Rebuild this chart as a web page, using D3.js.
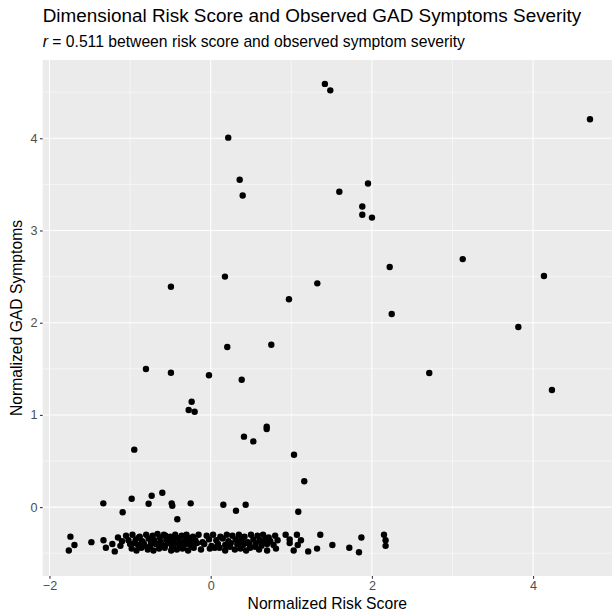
<!DOCTYPE html>
<html><head><meta charset="utf-8">
<script src="https://cdn.jsdelivr.net/npm/d3@7"></script>
<style>body{margin:0;background:#fff}svg{display:block}text{font-family:"Liberation Sans",Arial,sans-serif}</style>
</head><body>
<svg id="c" width="612" height="615"></svg>
<script>
const titleText = "Dimensional Risk Score and Observed GAD Symptoms Severity";
const xLabel = "Normalized Risk Score";
const yLabel = "Normalized GAD Symptoms";
const xTicks = [-2, 0, 2, 4];
const yTicks = [0, 1, 2, 3, 4];

// Scattered participants (above the floor)
const riskScoreHigh = [1.417,1.484,0.218,0.36,0.397,1.596,4.706,1.952,1.881,1.881,2.001,3.127,-0.493,0.177,1.323,0.971,0.752,0.206,-0.803,-0.493,-0.021,0.385,-0.236,-0.273,-0.199,0.695,0.695,0.413,0.529,-0.948,1.034,1.161,2.221,4.135,2.246,3.817,2.712,4.234,-1.332,-0.98,-0.732,-0.6,-0.77,-1.092,-0.484,-0.476,-0.248,-0.414,0.157,0.314,0.434,1.087];
const gadHigh = [4.59,4.52,4.007,3.55,3.38,3.42,4.206,3.51,3.26,3.17,3.14,2.69,2.39,2.50,2.427,2.254,1.761,1.736,1.498,1.458,1.43,1.382,1.143,1.053,1.035,0.872,0.847,0.764,0.713,0.623,0.568,0.28,2.604,2.506,2.094,1.953,1.454,1.27,0.041,0.091,0.124,0.156,0.037,-0.056,0.041,0.015,0.041,-0.132,0.026,-0.039,0.026,-0.05];

// Participants near the symptom floor
const riskScoreFloor = [
 -1.76,-1.74,-1.69,-1.48,-1.33,-1.30,-1.19,-1.22,-1.15,-1.12,-1.10,
 -1.05,-0.97,-0.88,-0.80,-0.72,-0.66,-0.58,-0.50,-0.44,-0.36,-0.30,-0.22,-0.15,-0.05,0.03,0.12,0.20,0.27,0.35,0.42,0.50,0.58,0.65,0.72,0.80,0.93,1.07,1.36,1.87,2.15,
 -1.02,-0.93,-0.85,-0.77,-0.70,-0.62,-0.55,-0.47,-0.40,-0.33,-0.27,-0.19,-0.10,-0.02,0.07,0.15,0.22,0.31,0.38,0.46,0.53,0.61,0.68,0.74,0.83,0.98,1.12,2.17,
 -1.00,-0.90,-0.83,-0.75,-0.68,-0.60,-0.52,-0.45,-0.38,-0.31,-0.25,-0.17,-0.08,0.01,0.09,0.18,0.25,0.33,0.40,0.48,0.56,0.63,0.70,0.78,0.98,1.08,1.51,1.72,2.17,
 -0.98,-0.92,-0.86,-0.78,-0.71,-0.64,-0.57,-0.49,-0.42,-0.35,-0.28,-0.21,-0.12,-0.01,0.05,0.18,0.30,0.37,0.44,0.49,0.60,0.70,0.81,1.03,1.21,1.32,1.84,
 -0.63,-0.57,-0.53,-0.48,-0.43,-0.39,-0.34,-0.29,-0.24,-0.56,-0.46,-0.66,-0.74,-0.82,-0.89,-0.95,0.11,0.24,0.40,0.55,0.64,0.44
];
const gadFloor = [
 -0.47,-0.32,-0.41,-0.38,-0.36,-0.44,-0.48,-0.40,-0.33,-0.42,-0.37,
 -0.31,-0.30,-0.32,-0.30,-0.31,-0.29,-0.30,-0.32,-0.30,-0.31,-0.30,-0.32,-0.30,-0.31,-0.30,-0.32,-0.30,-0.31,-0.30,-0.32,-0.30,-0.31,-0.30,-0.33,-0.31,-0.30,-0.30,-0.30,-0.33,-0.30,
 -0.36,-0.35,-0.37,-0.34,-0.36,-0.38,-0.35,-0.36,-0.34,-0.37,-0.35,-0.36,-0.38,-0.35,-0.36,-0.34,-0.37,-0.35,-0.36,-0.38,-0.35,-0.36,-0.34,-0.37,-0.36,-0.35,-0.36,-0.36,
 -0.40,-0.41,-0.39,-0.42,-0.40,-0.41,-0.39,-0.40,-0.42,-0.40,-0.41,-0.39,-0.40,-0.42,-0.40,-0.41,-0.39,-0.40,-0.41,-0.40,-0.39,-0.42,-0.40,-0.41,-0.39,-0.41,-0.41,-0.44,-0.42,
 -0.45,-0.47,-0.44,-0.46,-0.47,-0.45,-0.44,-0.47,-0.46,-0.45,-0.47,-0.44,-0.46,-0.45,-0.44,-0.47,-0.46,-0.45,-0.47,-0.44,-0.46,-0.47,-0.45,-0.47,-0.48,-0.45,-0.49,
 -0.33,-0.42,-0.37,-0.43,-0.33,-0.39,-0.44,-0.33,-0.38,-0.31,-0.35,-0.40,-0.38,-0.42,-0.33,-0.39,-0.44,-0.43,-0.33,-0.43,-0.38,-0.39
];

const riskScore = riskScoreHigh.concat(riskScoreFloor);
const gadSymptoms = gadHigh.concat(gadFloor);

const svg = d3.select("#c");
const L = 42.7, R = 612, T = 60, B = 576;
const x = d3.scaleLinear().domain([-2.084, 4.979]).range([L, R]);
const y = d3.scaleLinear().domain([-0.747, 4.849]).range([B, T]);

svg.append("rect").attr("x", L).attr("y", T).attr("width", R - L).attr("height", B - T).attr("fill", "#EBEBEB");

const xMinor = [-1, 1, 3];
const yMinor = [-0.5, 0.5, 1.5, 2.5, 3.5, 4.5];
const g = svg.append("g");
g.selectAll(".xm").data(xMinor).join("line").attr("x1", d => x(d)).attr("x2", d => x(d)).attr("y1", T).attr("y2", B).attr("stroke", "#fff").attr("stroke-width", 0.53);
g.selectAll(".ym").data(yMinor).join("line").attr("y1", d => y(d)).attr("y2", d => y(d)).attr("x1", L).attr("x2", R).attr("stroke", "#fff").attr("stroke-width", 0.53);
g.selectAll(".xM").data(xTicks).join("line").attr("x1", d => x(d)).attr("x2", d => x(d)).attr("y1", T).attr("y2", B).attr("stroke", "#fff").attr("stroke-width", 1.07);
g.selectAll(".yM").data(yTicks).join("line").attr("y1", d => y(d)).attr("y2", d => y(d)).attr("x1", L).attr("x2", R).attr("stroke", "#fff").attr("stroke-width", 1.07);

// axes
const xAxis = d3.axisBottom(x).tickValues(xTicks).tickSize(2.74).tickPadding(2.5).tickFormat(d3.format("d"));
const gx = svg.append("g").attr("transform", `translate(0,${B})`).call(xAxis);
gx.select(".domain").remove();
gx.selectAll("line").attr("stroke", "#333333").attr("stroke-width", 1.07);
gx.selectAll("text").attr("fill", "#4D4D4D").style("font-size", "12.6px");

const yAxis = d3.axisLeft(y).tickValues(yTicks).tickSize(2.74).tickPadding(2.5).tickFormat(d3.format("d"));
const gy = svg.append("g").attr("transform", `translate(${L},0)`).call(yAxis);
gy.select(".domain").remove();
gy.selectAll("line").attr("stroke", "#333333").attr("stroke-width", 1.07);
gy.selectAll("text").attr("fill", "#4D4D4D").style("font-size", "12.6px");

// points
svg.append("g").selectAll("circle").data(riskScore.map((d, i) => [d, gadSymptoms[i]]))
  .join("circle").attr("cx", d => x(d[0])).attr("cy", d => y(d[1])).attr("r", 3.2).attr("fill", "#000");

// titles
svg.append("text").attr("x", L).attr("y", 22).style("font-size", "18.9px").attr("fill", "#000").text(titleText);
const sub = svg.append("text").attr("x", L).attr("y", 47).style("font-size", "15.7px").attr("fill", "#000");
sub.append("tspan").style("font-style", "italic").text("r");
sub.append("tspan").text(" = 0.511 between risk score and observed symptom severity");

svg.append("text").attr("x", (L + R) / 2).attr("y", 609).attr("text-anchor", "middle").style("font-size", "15.7px").attr("fill", "#000").text(xLabel);
svg.append("text").attr("transform", `translate(22,${(T + B) / 2}) rotate(-90)`).attr("text-anchor", "middle").style("font-size", "15.7px").attr("fill", "#000").text(yLabel);
</script>
</body></html>
